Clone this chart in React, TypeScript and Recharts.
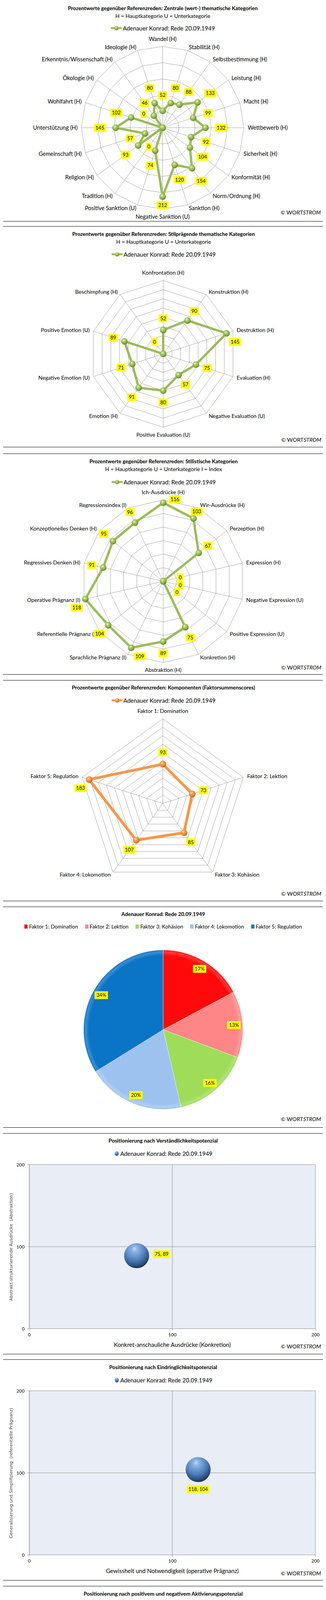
import React from 'react';
import {
  RadarChart, Radar, PolarGrid, PolarAngleAxis, PolarRadiusAxis,
  PieChart, Pie, Cell, ScatterChart, Scatter, XAxis, YAxis, CartesianGrid,
  BarChart, Bar, LabelList,
} from 'recharts';

const SPEECH = 'Adenauer Konrad: Rede 20.09.1949';

// Zentrale (wert-) thematische Kategorien
const themeNames = ['Wandel (H)', 'Stabilität (H)', 'Selbstbestimmung (H)', 'Leistung (H)', 'Macht (H)', 'Wettbewerb (H)', 'Sicherheit (H)', 'Konformität (H)', 'Norm/Ordnung (H)', 'Sanktion (H)', 'Negative Sanktion (U)', 'Positive Sanktion (U)', 'Tradition (H)', 'Religion (H)', 'Gemeinschaft (H)', 'Unterstützung (H)', 'Wohlfahrt (H)', 'Ökologie (H)', 'Erkenntnis/Wissenschaft (H)', 'Ideologie (H)'];
const themeValues = [52, 80, 88, 133, 99, 132, 92, 104, 154, 120, 212, 74, 0, 93, 57, 145, 102, 0, 46, 80];

// Stilprägende thematische Kategorien
const toneNames = ['Konfrontation (H)', 'Konstruktion (H)', 'Destruktion (H)', 'Evaluation (H)', 'Negative Evaluation (U)', 'Positive Evaluation (U)', 'Emotion (H)', 'Negative Emotion (U)', 'Positive Emotion (U)', 'Beschimpfung (H)'];
const toneValues = [52, 90, 145, 75, 57, 80, 91, 71, 89, 0];

// Stilistische Kategorien
const stilNames = ['Ich-Ausdrücke (H)', 'Wir-Ausdrücke (H)', 'Perzeption (H)', 'Expression (H)', 'Negative Expression (U)', 'Positive Expression (U)', 'Konkretion (H)', 'Abstraktion (H)', 'Sprachliche Prägnanz (I)', 'Referentielle Prägnanz (I)', 'Operative Prägnanz (I)', 'Regressives Denken (H)', 'Konzeptionelles Denken (H)', 'Regressionsindex (I)'];
const stilValues = [116, 103, 67, 0, 0, 0, 75, 89, 109, 104, 118, 91, 95, 96];

// Komponenten (Faktorsummenscores), also used for the pie
const factorNames = ['Faktor 1: Domination', 'Faktor 2: Lektion', 'Faktor 3: Kohäsion', 'Faktor 4: Lokomotion', 'Faktor 5: Regulation'];
const factorValues = [93, 73, 85, 107, 183];
const factorColors = ['#FF0A0A', '#FF8686', '#9FDC5A', '#9DC2F0', '#0A74C6'];

// Positionierungen
const comprehensionPoint = [{ x: 75, y: 89 }];
const penetrationPoint = [{ x: 118, y: 104 }];
const activationPoint = [{ x: 83, y: 90 }];
const scatterTicks = [0, 100, 200];

// Bezüge zu Menschen und Rollen
const peopleNames = ['Bevölkerung/Volk (H)', 'Mensch (H)', 'Bürgerrolle (H)', 'Wählerrolle (H)', 'Familienrolle (H)', 'Menschlicher Bezug Gesamt'];
const peopleValues = [270, 32, 0, 1403, 39, 105];
const peopleTicks = [0, 100, 200, 300, 400, 500, 600, 700, 800, 900, 1000, 1100, 1200, 1300, 1400, 1500];

// Bezüge zu Bedrohungen
const threatNames = ['Unspezifische Katastrophe (H)', 'Naturkatastrophe (H)', 'Krise (H)', 'Arbeitslosigkeit (H)', 'Terror (H)', 'Krieg (H)'];
const threatValues = [0, 0, 0, 0, 0, 260];
const threatTicks = [0, 100, 200, 300];

const PW = 830;
const PH = 566;
const FONT = 'Lato, "Open Sans", "DejaVu Sans", sans-serif';
const RAD = Math.PI / 180;

const charW = (c: string) => (/[0-9]/.test(c) ? 0.58 : c === '%' ? 0.85 : c === ',' || c === ' ' ? 0.26 : 0.55);

function LabelBox({ x, y, text, fs = 13 }: { x: number; y: number; text: string; fs?: number }) {
  const w = text.split('').reduce((s, c) => s + charW(c) * fs, 0) + 8;
  const h = fs + 7;
  return (
    <g>
      <rect x={x - w / 2} y={y - h / 2} width={w} height={h} fill="#FFFF00" />
      <text x={x} y={y + fs * 0.36} textAnchor="middle" fontSize={fs} fill="#000">{text}</text>
    </g>
  );
}

function Defs() {
  return (
    <svg width={0} height={0} style={{ position: 'absolute' }}>
      <defs>
        <radialGradient id="gGreen" cx="40%" cy="35%" r="65%">
          <stop offset="0" stopColor="#E6F6C4" />
          <stop offset="0.35" stopColor="#AACD64" />
          <stop offset="0.8" stopColor="#7FA33A" />
          <stop offset="1" stopColor="#5C7B24" />
        </radialGradient>
        <radialGradient id="gOrange" cx="40%" cy="35%" r="65%">
          <stop offset="0" stopColor="#FFE0BE" />
          <stop offset="0.35" stopColor="#F9A050" />
          <stop offset="0.8" stopColor="#E07E28" />
          <stop offset="1" stopColor="#A9570F" />
        </radialGradient>
        <radialGradient id="gBlue" cx="42%" cy="30%" r="70%" fx="42%" fy="22%">
          <stop offset="0" stopColor="#C4DCF7" />
          <stop offset="0.15" stopColor="#8DB5E6" />
          <stop offset="0.6" stopColor="#4F7FBA" />
          <stop offset="0.88" stopColor="#2D4F7C" />
          <stop offset="1" stopColor="#1A2F4C" />
        </radialGradient>
        <linearGradient id="gBarGreen" x1="0" y1="0" x2="1" y2="0">
          <stop offset="0" stopColor="#86C143" />
          <stop offset="0.5" stopColor="#A3DE62" />
          <stop offset="1" stopColor="#84BE41" />
        </linearGradient>
        <linearGradient id="gBarPurple" x1="0" y1="0" x2="1" y2="0">
          <stop offset="0" stopColor="#A893C4" />
          <stop offset="0.5" stopColor="#C1B0D8" />
          <stop offset="1" stopColor="#A38DBF" />
        </linearGradient>
        {factorColors.map((c, i) => (
          <radialGradient key={i} id={`gPie${i}`} gradientUnits="userSpaceOnUse" cx={415} cy={315} r={204}>
            <stop offset="0" stopColor={c} />
            <stop offset="0.93" stopColor={c} />
            <stop offset="0.975" stopColor={c} stopOpacity={0.8} />
            <stop offset="1" stopColor={c} />
          </radialGradient>
        ))}
      </defs>
    </svg>
  );
}

function Panel({ left, top, width = PW, height = PH, children }: any) {
  return (
    <div style={{ position: 'absolute', left, top, width, height, overflow: 'hidden', background: '#fff' }}>
      {children}
      <div style={{ position: 'absolute', left: 0, top: 0, right: 0, bottom: 0, border: '1.5px solid #000', boxSizing: 'border-box', pointerEvents: 'none' }} />
    </div>
  );
}

const Title = ({ y, children }: any) => (
  <div style={{ position: 'absolute', left: 0, width: '100%', top: y - 9, lineHeight: '18px', textAlign: 'center', fontWeight: 700, fontSize: 13.5 }}>{children}</div>
);
const Sub = ({ y, children }: any) => (
  <div style={{ position: 'absolute', left: 0, width: '100%', top: y - 9, lineHeight: '18px', textAlign: 'center', fontSize: 14 }}>{children}</div>
);
const Mark = ({ y }: any) => (
  <div style={{ position: 'absolute', right: 11, top: y - 9, lineHeight: '18px', fontSize: 14 }}>© WORT<i>STROM</i></div>
);
const LegendRow = ({ y, icon, fs = 15 }: any) => (
  <div style={{ position: 'absolute', left: 0, width: '100%', top: y - 9, height: 18, display: 'flex', justifyContent: 'center', alignItems: 'center', fontSize: fs, lineHeight: '18px' }}>
    {icon}<span>{SPEECH}</span>
  </div>
);
const lineIcon = (color: string, grad: string) => (
  <svg width={30} height={14} style={{ marginRight: 1 }}>
    <line x1={1} y1={7} x2={29} y2={7} stroke={color} strokeWidth={5} />
    <circle cx={15} cy={7} r={5.5} fill={`url(#${grad})`} />
  </svg>
);
const sphereIcon = (
  <svg width={14} height={14} style={{ marginRight: 2 }}>
    <ellipse cx={7} cy={7} rx={5} ry={6} fill="url(#gBlue)" />
  </svg>
);
const squareIcon = (grad: string) => (
  <svg width={12} height={12} style={{ marginRight: 3 }}>
    <rect x={1} y={1} width={9} height={10} fill={`url(#${grad})`} stroke="#777" strokeWidth={0.5} />
  </svg>
);

type RadarCfg = {
  names: string[]; values: number[]; max: number; tickCount: number;
  cx: number; cy: number; R: number; color: string; grad: string; lw: number;
  off: number; minD: number; fs: number;
};

function RadarBlock(cfg: RadarCfg) {
  const data = cfg.names.map((name, i) => ({ name, v: cfg.values[i] }));
  const n = data.length;
  const angleOf = (i: number) => 90 - (i * 360) / n;

  const tick = (p: any) => {
    const a = typeof p.payload?.coordinate === 'number' ? p.payload.coordinate : angleOf(p.index);
    const dx = Math.cos(a * RAD);
    const dy = -Math.sin(a * RAD);
    const vx = cfg.cx + cfg.R * dx;
    const vy = cfg.cy + cfg.R * dy;
    let anchor = 'middle';
    let tx = vx;
    let ty = vy + dy * 19.5;
    if (Math.abs(dx) >= 0.05) {
      anchor = dx > 0 ? 'start' : 'end';
      tx = vx + 10 * dx;
      ty = vy + 8.5 * dy;
    }
    return (
      <text key={`t${p.index}`} x={tx} y={ty + cfg.fs * 0.35} textAnchor={anchor} fontSize={cfg.fs} fill="#000">
        {p.payload.value}
      </text>
    );
  };

  const dot = (p: any) => {
    const i = p.index;
    const val = cfg.values[i];
    const a = angleOf(i) * RAD;
    const dx = Math.cos(a);
    const dy = -Math.sin(a);
    const r = Math.hypot(p.cx - cfg.cx, p.cy - cfg.cy);
    let d = r + cfg.off;
    if (d > cfg.R - 10) d = cfg.R - 10;
    let lx: number;
    let ly: number;
    if (d - r < 18) {
      // no room outside the point: set the value beside it
      if (Math.abs(dx) < 0.3) {
        lx = p.cx + 30;
        ly = p.cy - 9;
      } else {
        lx = p.cx + (dx < -0.7 ? -22 : 22);
        ly = p.cy + 22;
      }
    } else {
      d = Math.max(d, cfg.minD);
      lx = cfg.cx + d * dx;
      ly = cfg.cy + d * dy;
    }
    return (
      <g key={`d${i}`}>
        <circle cx={p.cx} cy={p.cy} r={8.5} fill={`url(#${cfg.grad})`} />
        <LabelBox x={lx} y={ly} text={String(val)} />
      </g>
    );
  };

  return (
    <div style={{ position: 'absolute', left: 0, top: 0 }}>
      <RadarChart width={PW} height={PH} data={data} cx={cfg.cx} cy={cfg.cy} outerRadius={cfg.R} margin={{ top: 0, right: 0, bottom: 0, left: 0 }}>
        <PolarGrid stroke="#8a8a8a" strokeWidth={0.8} />
        <PolarAngleAxis dataKey="name" tick={tick} tickLine={false} axisLine={false} />
        <PolarRadiusAxis domain={[0, cfg.max]} tickCount={cfg.tickCount} tick={false} axisLine={false} />
        <Radar dataKey="v" stroke={cfg.color} strokeWidth={cfg.lw} strokeLinejoin="round" fill="none" fillOpacity={0} dot={dot} isAnimationActive={false} />
      </RadarChart>
    </div>
  );
}

function FactorPie() {
  const data = factorNames.map((name, i) => ({ name, v: factorValues[i] }));
  const label = (p: any) => {
    const r = p.outerRadius * 0.89;
    const x = p.cx + r * Math.cos(-p.midAngle * RAD);
    const y = p.cy + r * Math.sin(-p.midAngle * RAD);
    return <LabelBox key={`pl${p.index}`} x={x} y={y} text={`${Math.round(p.percent * 100)}%`} />;
  };
  return (
    <div style={{ position: 'absolute', left: 0, top: 0 }}>
      <PieChart width={PW} height={PH} margin={{ top: 0, right: 0, bottom: 0, left: 0 }}>
        <Pie data={data} dataKey="v" nameKey="name" cx={415} cy={315} outerRadius={204} startAngle={90} endAngle={-270}
          stroke="rgba(255,255,255,0.6)" strokeWidth={1} label={label} labelLine={false} isAnimationActive={false}>
          {data.map((d, i) => <Cell key={d.name} fill={`url(#gPie${i})`} />)}
        </Pie>
      </PieChart>
    </div>
  );
}

function ScatterBlock({ points, xTitle, yTitle, ldx, ldy }: any) {
  const bubble = (p: any) => (
    <g>
      <circle cx={p.cx} cy={p.cy} r={32} fill="url(#gBlue)" />
      <LabelBox x={p.cx + ldx} y={p.cy + ldy} text={`${p.payload.x}, ${p.payload.y}`} fs={12.5} />
    </g>
  );
  return (
    <>
      <div style={{ position: 'absolute', left: 0, top: 0 }}>
        <ScatterChart width={PW} height={PH} margin={{ top: 80.5, right: 25, bottom: 35.5, left: 22 }}>
          <CartesianGrid stroke="#8c8c8c" fill="#E9EDF5" />
          <XAxis type="number" dataKey="x" domain={[0, 200]} ticks={scatterTicks} tick={{ fontSize: 12, fill: '#000' }} tickSize={5} tickMargin={6} stroke="#8c8c8c" height={30} />
          <YAxis type="number" dataKey="y" domain={[0, 200]} ticks={scatterTicks} tick={{ fontSize: 12, fill: '#000' }} tickSize={5} tickMargin={7} stroke="#8c8c8c" width={50} />
          <Scatter data={points} shape={bubble} isAnimationActive={false} />
        </ScatterChart>
      </div>
      <div style={{ position: 'absolute', left: 72, width: 733, top: 532, lineHeight: '18px', textAlign: 'center', fontSize: 15 }}>{xTitle}</div>
      <div style={{ position: 'absolute', left: 25, top: 291, transform: 'translate(-50%,-50%) rotate(-90deg)', whiteSpace: 'pre', fontFamily: '"DejaVu Sans", sans-serif', fontSize: 11, color: '#404040' }}>{yTitle}</div>
    </>
  );
}

const rightEdge = (args: any) => (args && args.offset ? [args.offset.left + args.offset.width] : []);

function BarBlock({ names, values, max, ticks, grad, bevel, bg, left, bottom, axisH }: any) {
  const data = names.map((name: string, i: number) => ({ name, v: values[i] }));
  const shape = (p: any) => {
    const { x, y, width, height } = p;
    if (!height || height <= 0) return <g />;
    const b = Math.min(5, height);
    return (
      <g>
        <rect x={x} y={y} width={width} height={height} fill={`url(#${grad})`} stroke="rgba(0,0,0,0.15)" strokeWidth={0.6} />
        <path d={`M${x},${y} L${x + width},${y} L${x + width - 3},${y + b} L${x + 3},${y + b} Z`} fill={bevel} />
      </g>
    );
  };
  const label = (p: any) => <LabelBox x={Number(p.x) + Number(p.width) / 2} y={Number(p.y) - 14} text={String(p.value)} />;
  const slant = (p: any) => (
    <text transform={`translate(${p.x + 7},${p.y + 12}) rotate(-45)`} textAnchor="end" fontSize={15} fontStyle="italic" fill="#000">
      {p.payload.value}
    </text>
  );
  return (
    <div style={{ position: 'absolute', left: 0, top: 0 }}>
      <BarChart width={PW} height={PH} data={data} margin={{ top: 81.5, right: 15, bottom, left }} barCategoryGap="17%">
        <CartesianGrid verticalCoordinatesGenerator={rightEdge} stroke="#000" fill={bg} />
        <XAxis dataKey="name" interval={0} tick={slant} tickLine={false} stroke="#868686" height={axisH} />
        <YAxis domain={[0, max]} ticks={ticks} interval={0} tick={{ fontSize: 12, fill: '#000' }} tickSize={5} tickMargin={6} stroke="#868686" width={40} />
        <Bar dataKey="v" shape={shape} isAnimationActive={false}>
          <LabelList dataKey="v" content={label} />
        </Bar>
      </BarChart>
    </div>
  );
}

export default function App() {
  return (
    <div style={{ position: 'relative', width: 835, height: 5788, margin: -8, fontFamily: FONT, color: '#000' }}>
      <Defs />

      <Panel left={1.5} top={1} width={831}>
        <RadarBlock names={themeNames} values={themeValues} max={250} tickCount={6} cx={414.5} cy={326} R={208}
          color="#9BBB59" grad="gGreen" lw={6} off={40} minD={60} fs={14.5} />
        <Title y={20}>Prozentwerte gegenüber Referenzreden: Zentrale (wert-) thematische Kategorien</Title>
        <Sub y={40}>H = Hauptkategorie U = Unterkategorie</Sub>
        <LegendRow y={71} icon={lineIcon('#9BBB59', 'gGreen')} />
        <Mark y={543} />
      </Panel>

      <Panel left={4} top={579}>
        <RadarBlock names={toneNames} values={toneValues} max={160} tickCount={9} cx={414} cy={327} R={188}
          color="#9BBB59" grad="gGreen" lw={6} off={30} minD={38} fs={14} />
        <Title y={20}>Prozentwerte gegenüber Referenzreden:  Stilprägende thematische Kategorien</Title>
        <Sub y={40}>H = Hauptkategorie U = Unterkategorie</Sub>
        <LegendRow y={72} icon={lineIcon('#9BBB59', 'gGreen')} />
        <Mark y={547} />
      </Panel>

      <Panel left={4} top={1161}>
        <RadarBlock names={stilNames} values={stilValues} max={120} tickCount={7} cx={414} cy={327} R={208}
          color="#9BBB59" grad="gGreen" lw={6} off={30} minD={45} fs={14} />
        <Title y={20}>Prozentwerte gegenüber Referenzreden:  Stilistische Kategorien</Title>
        <Sub y={40}>H = Hauptkategorie U = Unterkategorie I = Index</Sub>
        <LegendRow y={73} icon={lineIcon('#9BBB59', 'gGreen')} />
        <Mark y={548} />
      </Panel>

      <Panel left={3} top={1741} width={831}>
        <RadarBlock names={factorNames} values={factorValues} max={200} tickCount={11} cx={414} cy={316} R={217}
          color="#F79646" grad="gOrange" lw={7} off={30} minD={40} fs={14} />
        <Title y={19}>Prozentwerte gegenüber Referenzreden:  Komponenten (Faktorsummenscores)</Title>
        <LegendRow y={52} icon={lineIcon('#F79646', 'gOrange')} />
        <Mark y={547} />
      </Panel>

      <Panel left={3} top={2321}>
        <FactorPie />
        <Title y={19}>{SPEECH}</Title>
        <div style={{ position: 'absolute', left: 0, width: '100%', top: 42, height: 18, display: 'flex', justifyContent: 'center', alignItems: 'center', gap: 18, fontSize: 13.5, lineHeight: '18px' }}>
          {factorNames.map((nm, i) => (
            <span key={nm} style={{ display: 'flex', alignItems: 'center' }}>
              <svg width={9} height={12} style={{ marginRight: 3 }}>
                <rect x={0.5} y={1} width={8} height={10} fill={factorColors[i]} stroke="rgba(0,0,0,0.25)" strokeWidth={0.5} />
              </svg>
              {nm}
            </span>
          ))}
        </div>
        <Mark y={544} />
      </Panel>

      <Panel left={3} top={2901}>
        <ScatterBlock points={comprehensionPoint} ldx={64} ldy={-4}
          xTitle="Konkret-anschauliche  Ausdrücke (Konkretion)" yTitle="Abstrakt-strukturierende Ausdrücke  (Abstraktion)" />
        <Title y={19}>Positionierung nach  Verständlichkeitspotenzial</Title>
        <LegendRow y={52} icon={sphereIcon} />
        <Mark y={546} />
      </Panel>

      <Panel left={3} top={3480}>
        <ScatterBlock points={penetrationPoint} ldx={0} ldy={50}
          xTitle="Gewissheit und Notwendigkeit  (operative Prägnanz)" yTitle="Generalisierung und Simplifizierung  (referentielle Prägnanz)" />
        <Title y={20}>Positionierung nach  Eindringlichkeitspotenzial</Title>
        <LegendRow y={53} icon={sphereIcon} />
        <Mark y={548} />
      </Panel>

      <Panel left={3} top={4060}>
        <ScatterBlock points={activationPoint} ldx={0} ldy={50}
          xTitle="Positives  Aktivierungspotenzial" yTitle="Negatives Aktivierungspotenzial" />
        <Title y={20}>Positionierung nach  positivem und negativem Aktivierungspotenzial</Title>
        <LegendRow y={53} icon={sphereIcon} />
        <Mark y={549} />
      </Panel>

      <Panel left={3} top={4640}>
        <BarBlock names={peopleNames} values={peopleValues} max={1500} ticks={peopleTicks} grad="gBarGreen" bevel="#C8EF99"
          bg="#EBF1DE" left={6.5} bottom={11} axisH={150} />
        <Title y={20}>Prozentwerte gegenüber Referenzreden:  Bezüge zu Menschen und Rollen</Title>
        <LegendRow y={53} icon={squareIcon('gBarGreen')} />
        <Mark y={548} />
      </Panel>

      <Panel left={3} top={5220} height={567}>
        <BarBlock names={threatNames} values={threatValues} max={300} ticks={threatTicks} grad="gBarPurple" bevel="#DCD2EA"
          bg="#E6E0EC" left={42} bottom={10} axisH={161} />
        <Title y={20}>Prozentwerte gegenüber Referenzreden:  Bezüge zu Bedrohungen</Title>
        <LegendRow y={53} icon={squareIcon('gBarPurple')} />
        <Mark y={549} />
      </Panel>
    </div>
  );
}
